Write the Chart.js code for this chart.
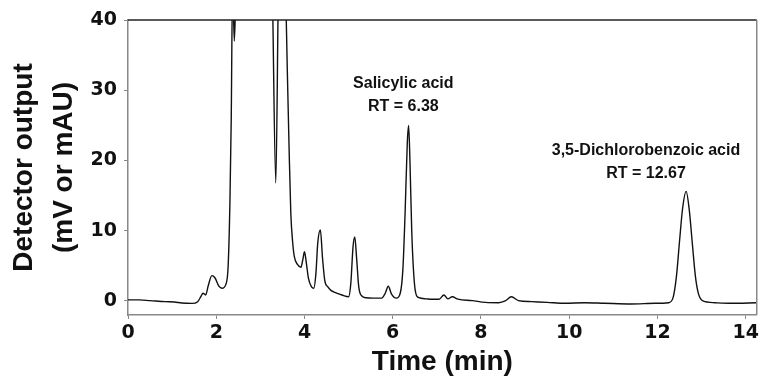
<!DOCTYPE html>
<html>
<head>
<meta charset="utf-8">
<script src="https://cdn.jsdelivr.net/npm/chart.js@4.4.0/dist/chart.umd.min.js"></script>
<style>
  html, body { margin: 0; padding: 0; background: #fff; }
  #wrap { width: 762px; height: 381px; }
</style>
</head>
<body>
<div id="wrap"><canvas id="chart" width="762" height="381"></canvas></div>
<script>
// retention time (min)
const times = [
	0.00, 0.25, 0.50, 0.85, 1.05, 1.22, 1.45, 1.58, 1.65, 1.70,
	1.76, 1.82, 1.90, 1.97, 2.06, 2.13, 2.22, 2.27, 2.31, 2.34,
	2.37, 2.41, 2.45, 2.60, 3.20, 3.27, 3.35, 3.41, 3.50, 3.57,
	3.61, 3.65, 3.69, 3.73, 3.77, 3.84, 3.92, 3.96, 4.00, 4.04,
	4.09, 4.16, 4.21, 4.26, 4.30, 4.36, 4.41, 4.46, 4.53, 4.60,
	4.70, 4.85, 5.00, 5.05, 5.10, 5.14, 5.18, 5.23, 5.30, 5.40,
	5.55, 5.75, 5.83, 5.90, 5.97, 6.08, 6.17, 6.23, 6.28, 6.33,
	6.36, 6.39, 6.43, 6.47, 6.51, 6.58, 6.75, 6.90, 7.05, 7.16,
	7.25, 7.35, 7.48, 7.80, 8.10, 8.40, 8.55, 8.69, 8.85, 9.15,
	9.50, 9.90, 10.35, 10.80, 11.40, 11.95, 12.25, 12.35, 12.43, 12.50,
	12.57, 12.65, 12.72, 12.79, 12.86, 12.93, 13.03, 13.30, 13.67, 14.25
];

// detector output (mV or mAU), values above 40 run off the top of the plot
const signal = [
	0.15, 0.15, 0.05, -0.10, -0.15, -0.30, -0.35, -0.10, 0.60, 1.10,
	0.85, 2.20, 3.60, 3.30, 2.10, 1.80, 2.40, 5.00, 14.0, 26.0,
	45.0, 37.0, 45.0, 60.0, 60.0, 45.0, 16.8, 45.0, 60.0, 45.0,
	33.0, 22.0, 12.5, 8.5, 6.3, 5.2, 4.8, 5.8, 7.0, 5.5,
	3.2, 2.0, 1.8, 4.0, 8.2, 10.1, 6.0, 2.9, 2.0, 1.5,
	1.2, 0.85, 0.6, 2.5, 7.7, 9.1, 6.2, 2.0, 0.7, 0.45,
	0.4, 0.4, 1.1, 2.1, 1.0, 0.4, 1.1, 4.5, 12.5, 22.5,
	25.0, 20.0, 10.1, 4.4, 1.5, 0.5, 0.3, 0.25, 0.25, 0.85,
	0.3, 0.6, 0.25, 0.05, -0.2, -0.25, 0.0, 0.6, 0.05, -0.1,
	-0.2, -0.33, -0.25, -0.33, -0.43, -0.33, -0.25, 0.4, 3.5, 8.5,
	13.2, 15.6, 13.0, 8.2, 3.5, 1.0, 0.0, -0.25, -0.33, -0.25
];

const xTicks = [0, 2, 4, 6, 8, 10, 12, 14];
const yTicks = [0, 10, 20, 30, 40];

const peakLabels = [
	['Salicylic acid', 'RT = 6.38'],
	['3,5-Dichlorobenzoic acid', 'RT = 12.67']
];
// where each label block sits, in axis units (centre of first line)
const peakLabelAt = [
	{ x: 6.24, y: 30.9 },
	{ x: 11.74, y: 21.35 }
];

const points = times.map((t, i) => ({ x: t, y: signal[i] }));

const framePlugin = {
	id: 'frame',
	afterDatasetsDraw(chart) {
		const { ctx, chartArea: a } = chart;
		ctx.save();
		ctx.lineWidth = 1.5;
		ctx.strokeStyle = '#222';
		ctx.beginPath();
		ctx.moveTo(a.left, a.top);
		ctx.lineTo(a.right, a.top);
		ctx.stroke();
		ctx.strokeStyle = '#888';
		ctx.beginPath();
		ctx.moveTo(a.right, a.top);
		ctx.lineTo(a.right, a.bottom);
		ctx.stroke();
		ctx.restore();
	}
};

const labelPlugin = {
	id: 'peakLabels',
	afterDatasetsDraw(chart) {
		const { ctx, scales } = chart;
		ctx.save();
		ctx.fillStyle = '#111';
		ctx.font = 'bold 16px "Liberation Sans", Arial, sans-serif';
		ctx.textAlign = 'center';
		ctx.textBaseline = 'middle';
		peakLabels.forEach((lines, i) => {
			const px = scales.x.getPixelForValue(peakLabelAt[i].x);
			const py = scales.y.getPixelForValue(peakLabelAt[i].y);
			lines.forEach((txt, j) => ctx.fillText(txt, px, py + j * 23));
		});
		ctx.restore();
	}
};

const ctx = document.getElementById('chart').getContext('2d');

new Chart(ctx, {
	type: 'line',
	data: {
		datasets: [{
			data: points,
			borderColor: '#111',
			borderWidth: 1.4,
			pointRadius: 0,
			fill: false,
			cubicInterpolationMode: 'monotone'
		}]
	},
	options: {
		responsive: false,
		animation: false,
		devicePixelRatio: 1,
		layout: { padding: { left: 0, top: 20, right: 4, bottom: 0 } },
		plugins: { legend: { display: false }, tooltip: { enabled: false } },
		scales: {
			x: {
				type: 'linear',
				min: 0,
				max: 14.25,
				afterFit: (s) => { s.height = 66; },
				afterBuildTicks: (s) => { s.ticks = xTicks.map(v => ({ value: v })); },
				ticks: {
					color: '#111',
					padding: 3,
					maxRotation: 0,
					font: { family: '"DejaVu Sans"', size: 19, weight: 'bold' }
				},
				grid: { drawOnChartArea: false, tickLength: 4, color: '#888' },
				border: { color: '#888', width: 1.5 },
				title: {
					display: true,
					text: 'Time (min)',
					color: '#111',
					padding: { top: 0, bottom: 2 },
					font: { family: '"Liberation Sans"', size: 28, weight: 'bold' }
				}
			},
			y: {
				min: -2,
				max: 40,
				afterFit: (s) => { s.width = 128; },
				afterBuildTicks: (s) => { s.ticks = yTicks.map(v => ({ value: v })); },
				ticks: {
					color: '#111',
					padding: 7,
					font: { family: '"DejaVu Sans"', size: 19, weight: 'bold' }
				},
				grid: { drawOnChartArea: false, tickLength: 4, color: '#888' },
				border: { color: '#888', width: 1.5 },
				title: {
					display: true,
					text: ['Detector output', '(mV or mAU)'],
					color: '#111',
					padding: { top: 4, bottom: 0 },
					font: { family: '"Liberation Sans"', size: 28, weight: 'bold', lineHeight: 1.43 }
				}
			}
		}
	},
	plugins: [framePlugin, labelPlugin]
});
</script>
</body>
</html>
